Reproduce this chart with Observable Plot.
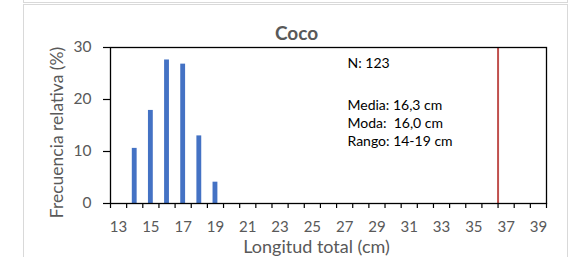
<!DOCTYPE html>
<html>
<head>
<meta charset="utf-8">
<script src="https://cdn.jsdelivr.net/npm/d3@7"></script>
<script src="https://cdn.jsdelivr.net/npm/@observablehq/plot@0.6"></script>
<style>
  html, body { margin: 0; padding: 0; background: #fff; }
  #wrap { position: relative; width: 584px; height: 257px; overflow: hidden; font-family: Lato, "Open Sans", sans-serif; }
  .box { position: absolute; border: 1px solid #d9d9d9; box-sizing: border-box; }
  #chart { position: absolute; left: 0; top: 0; }
</style>
</head>
<body>
<div id="wrap">
  <div class="box" style="left:23px; top:-30px; width:545px; height:33px;"></div>
  <div class="box" style="left:23px; top:4px; width:545px; height:300px;"></div>
  <div id="chart"></div>
</div>
<script>
// Data
const chartTitle = "Coco";
const lengths = [14, 15, 16, 17, 18, 19];
const freq = [10.6, 17.9, 27.6, 26.8, 13.0, 4.1];
const categories = [13,14,15,16,17,18,19,20,21,22,23,24,25,26,27,28,29,30,31,32,33,34,35,36,37,38,39];
const xTickLabels = [13,15,17,19,21,23,25,27,29,31,33,35,37,39];
const yTicks = [0, 10, 20, 30];
const refLine = [36.5];
const statN = "N: 123";
const statLines = ["Media: 16,3 cm", "Moda:  16,0 cm", "Rango: 14-19 cm"];
const xTitle = "Longitud total (cm)";
const yTitle = "Frecuencia relativa (%)";

const bars = lengths.map((l, i) => ({ length: l, freq: freq[i] }));
const boundaries = categories.map(c => c - 0.5).concat([categories[categories.length - 1] + 0.5]);
const halfBar = 0.15;

const chart = Plot.plot({
  width: 584,
  height: 257,
  marginLeft: 110,
  marginRight: 38,
  marginTop: 47,
  marginBottom: 54,
  style: { fontFamily: "Lato, 'Open Sans', sans-serif", background: "transparent", overflow: "visible" },
  x: { type: "linear", domain: [boundaries[0], boundaries[boundaries.length - 1]] },
  y: { domain: [0, 30] },
  marks: [
    Plot.rectY(bars, { x1: d => d.length - halfBar, x2: d => d.length + halfBar, y: "freq", fill: "#4472C4" }),
    Plot.ruleX(refLine, { stroke: "#C0504D", strokeWidth: 2 }),
    Plot.frame({ stroke: "black", strokeWidth: 1.3 }),
    Plot.axisX({ ticks: boundaries, tickSize: 5, tickFormat: () => "", stroke: "black", strokeWidth: 1.2, label: null }),
    Plot.axisX({ ticks: xTickLabels, tickSize: 0, tickPadding: 17.5, fontSize: 15, fill: "#595959", label: null, tickFormat: d => String(d) }),
    Plot.axisY({ ticks: yTicks, tickSize: 7, tickPadding: 12, fontSize: 15.5, fill: "#595959", stroke: "black", strokeWidth: 1.2, label: null }),
    Plot.text([chartTitle], { frameAnchor: "top", dx: -32, dy: -8, lineAnchor: "bottom", fontSize: 19, fontWeight: "bold", fill: "#595959" }),
    Plot.text([xTitle], { frameAnchor: "bottom", dx: -12, dy: 49, lineAnchor: "bottom", fontSize: 18, fill: "#595959" }),
    Plot.text([yTitle], { frameAnchor: "left", dx: -53, dy: 7, rotate: -90, textAnchor: "middle", fontSize: 17.5, fill: "#595959" }),
    Plot.text([statN], { frameAnchor: "top-left", dx: 237, dy: 11, lineAnchor: "top", textAnchor: "start", fontSize: 14, fill: "#000" }),
    Plot.text([statLines.join("\n")], { frameAnchor: "top-left", dx: 237, dy: 50, lineAnchor: "top", textAnchor: "start", fontSize: 14, lineHeight: 1.29, fill: "#000" })
  ]
});
document.getElementById("chart").appendChild(chart);
</script>
</body>
</html>
